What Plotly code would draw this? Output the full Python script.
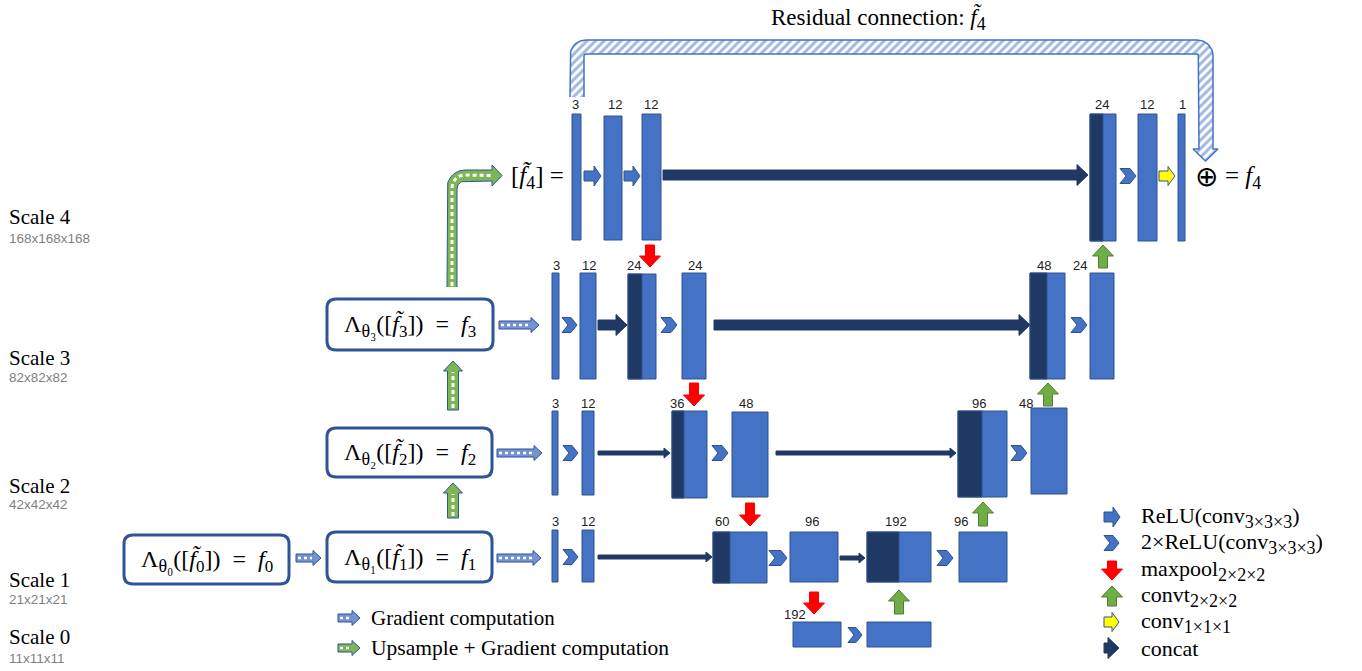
import numpy as np
import plotly.graph_objects as go

# ---------------- data (text content) ----------------
scale_names = ["Scale 4", "Scale 3", "Scale 2", "Scale 1", "Scale 0"]
scale_sizes = ["168x168x168", "82x82x82", "42x42x42", "21x21x21", "11x11x11"]
channels_s4 = ["3", "12", "12", "24", "12", "1"]
channels_s3 = ["3", "12", "24", "24", "48", "24"]
channels_s2 = ["3", "12", "36", "48", "96", "48"]
channels_s1 = ["3", "12", "60", "96", "192", "96"]
channels_s0 = ["192"]
SUB = '<sub><span style="font-size:{}px">{}</span></sub>'
solver_labels = [
    "Λ" + SUB.format(18, "θ₀") + "([<i>f̃</i>" + SUB.format(17, "0") + "])  =  <i>f</i>" + SUB.format(17, "0"),
    "Λ" + SUB.format(18, "θ₁") + "([<i>f̃</i>" + SUB.format(17, "1") + "])  =  <i>f</i>" + SUB.format(17, "1"),
    "Λ" + SUB.format(18, "θ₂") + "([<i>f̃</i>" + SUB.format(17, "2") + "])  =  <i>f</i>" + SUB.format(17, "2"),
    "Λ" + SUB.format(18, "θ₃") + "([<i>f̃</i>" + SUB.format(17, "3") + "])  =  <i>f</i>" + SUB.format(17, "3"),
]
legend_ops = [
    "ReLU(conv" + SUB.format(18, "3×3×3") + ")",
    "2×ReLU(conv" + SUB.format(18, "3×3×3") + ")",
    "maxpool" + SUB.format(18, "2×2×2"),
    "convt" + SUB.format(18, "2×2×2"),
    "conv" + SUB.format(18, "1×1×1"),
    "concat",
]
legend_grad = ["Gradient computation", "Upsample + Gradient computation"]
title_text = "Residual connection: <i>f̃</i>" + SUB.format(18, "4")

# ---------------- layout geometry (pixels) ----------------
W, H = 1362, 671
BLUE = "#4472C4"
BLUE_EDGE = "#2F528F"
DARK = "#203864"
BOX_EDGE = "#2F5597"
RED = "#FF0000"
GREEN = "#70AD47"
GREEN_EDGE = "#507E32"
YELLOW = "#FFFF00"
SERIF = "Liberation Serif"
SANS = "Liberation Sans"

shapes = []
annotations = []
traces = []


def path_of(pts, close=True):
    s = "M " + " L ".join(f"{x:.2f},{y:.2f}" for x, y in pts)
    return s + (" Z" if close else "")


def add_poly(pts, fill, edge, lw=1):
    shapes.append(dict(type="path", path=path_of(pts), fillcolor=fill,
                       line=dict(color=edge, width=lw), xref="x", yref="y"))


def add_rect(x0, y0, x1, y1, fill=BLUE, edge=BLUE_EDGE, lw=1):
    shapes.append(dict(type="rect", x0=x0, y0=y0, x1=x1, y1=y1, fillcolor=fill,
                       line=dict(color=edge, width=lw), xref="x", yref="y"))


def harrow_pts(x0, x1, yc, s, hh, hl):
    return [(x0, yc - s / 2), (x1 - hl, yc - s / 2), (x1 - hl, yc - hh / 2), (x1, yc),
            (x1 - hl, yc + hh / 2), (x1 - hl, yc + s / 2), (x0, yc + s / 2)]


def varrow_pts(xc, ytail, ytip, s, hw, hl):
    d = 1 if ytip > ytail else -1
    yb = ytip - d * hl
    return [(xc - s / 2, ytail), (xc - s / 2, yb), (xc - hw / 2, yb), (xc, ytip),
            (xc + hw / 2, yb), (xc + s / 2, yb), (xc + s / 2, ytail)]


def chevron_pts(x0, x1, yc, h, notch):
    return [(x0, yc - h / 2), (x1 - notch, yc - h / 2), (x1, yc), (x1 - notch, yc + h / 2),
            (x0, yc + h / 2), (x0 + notch, yc)]


def add_block(x0, y0, x1, y1, xdark=None):
    add_rect(x0, y0, x1, y1)
    if xdark is not None:
        add_rect(x0, y0, xdark, y1, fill=DARK)


def add_relu(x0, x1, yc):
    add_poly(harrow_pts(x0, x1, yc, 10, 20, 7), BLUE, BLUE_EDGE)


def add_chev(x0, x1, yc):
    add_poly(chevron_pts(x0, x1, yc, 15, 6), BLUE, BLUE_EDGE)


def add_concat(x0, x1, yc, thick=True):
    if thick:
        add_poly(harrow_pts(x0, x1, yc, 10, 21, 11), DARK, DARK)
    else:
        add_poly(harrow_pts(x0, x1, yc, 4, 10, 6), DARK, DARK)


def add_down(xc, y0, y1):
    add_poly(varrow_pts(xc, y0, y1, 9, 21, 11), RED, RED)


def add_up(xc, y0, y1):
    add_poly(varrow_pts(xc, y0, y1, 9, 21, 11), GREEN, GREEN_EDGE)


def add_label(x, y, txt, size=13):
    annotations.append(dict(x=x, y=y, text=txt, showarrow=False, xref="x", yref="y",
                            xanchor="center", yanchor="middle",
                            font=dict(family=SANS, size=size, color="#222222")))


def add_text(x, y, txt, size=21, anchor="center", family=SERIF, color="black"):
    annotations.append(dict(x=x, y=y, text=txt, showarrow=False, xref="x", yref="y",
                            xanchor=anchor, yanchor="middle",
                            font=dict(family=family, size=size, color=color)))


def add_grad_h(x0, x1, yc, green=False):
    fill = "#7DB655" if green else "#7393D3"
    add_poly(harrow_pts(x0, x1, yc, 8, 15, 8), fill, BOX_EDGE)
    shapes.append(dict(type="line", x0=x0 + 2, x1=x1 - 9, y0=yc, y1=yc, xref="x", yref="y",
                       line=dict(color="white", width=2.5, dash="3px,3px")))


def add_grad_v(xc, ytail, ytip):
    add_poly(varrow_pts(xc, ytail, ytip, 11, 19, 10), "#7DB655", BOX_EDGE)
    shapes.append(dict(type="line", x0=xc, x1=xc, y0=ytail - 2, y1=ytip + 11, xref="x", yref="y",
                       line=dict(color="white", width=3, dash="4px,3px")))


def round_box(x0, y0, x1, y1, r=9):
    p = (f"M {x0 + r},{y0} L {x1 - r},{y0} Q {x1},{y0} {x1},{y0 + r} L {x1},{y1 - r} "
         f"Q {x1},{y1} {x1 - r},{y1} L {x0 + r},{y1} Q {x0},{y1} {x0},{y1 - r} "
         f"L {x0},{y0 + r} Q {x0},{y0} {x0 + r},{y0} Z")
    shapes.append(dict(type="path", path=p, fillcolor="white",
                       line=dict(color=BOX_EDGE, width=3), xref="x", yref="y"))


def arc(cx, cy, r, a0, a1, n=12):
    a = np.linspace(np.radians(a0), np.radians(a1), n)
    return list(zip(cx + r * np.cos(a), cy + r * np.sin(a)))


# ---------- scale text on the left ----------
scale_y = [217, 358, 486, 580, 637]
size_y = [238, 377, 504, 599, 658]
for nm, sz, y1, y2 in zip(scale_names, scale_sizes, scale_y, size_y):
    add_text(7, y1, nm, size=21, anchor="left")
    add_text(7, y2, sz, size=13.5, anchor="left", family=SANS, color="#7F7F7F")

# ---------- solver boxes ----------
box_geom = [(124, 535, 289, 584), (327, 532, 492, 582), (327, 428, 492, 477), (327, 299, 493, 350)]
for (x0, y0, x1, y1), lab in zip(box_geom, solver_labels):
    round_box(x0, y0, x1, y1)
    add_text((x0 + x1) / 2, (y0 + y1) / 2 + 1, lab, size=24)

# gradient arrows
add_grad_h(296, 321, 558)
add_grad_h(497, 541, 558)
add_grad_h(497, 542, 453)
add_grad_h(499, 539, 325)
add_grad_v(453, 518, 483)
add_grad_v(453, 410, 361)

# upsample L-tube (green)
tube = []
tube += [(447, 287), (447, 188)]
tube += arc(465, 188, 18, 180, 270)
tube += [(492, 170), (492, 165), (502, 175.5), (492, 186), (492, 181)]
tube += arc(465, 189, 8, 270, 180)
tube += [(457, 189), (457, 287)]
traces.append(go.Scatter(x=[p[0] for p in tube], y=[p[1] for p in tube], mode="lines",
                         fill="toself", fillcolor="#7DB655",
                         line=dict(color=BOX_EDGE, width=1), hoverinfo="skip", showlegend=False))
centre = [(452, 286), (452, 188)] + arc(465, 188, 13, 180, 270) + [(491, 175.5)]
shapes.append(dict(type="path", path=path_of(centre, close=False), xref="x", yref="y",
                   line=dict(color="white", width=3, dash="4px,3px")))

# legend for gradient arrows
add_grad_h(338, 360, 618)
add_grad_h(338, 360, 648, green=True)
add_text(369, 618, legend_grad[0], size=21, anchor="left")
add_text(369, 648, legend_grad[1], size=21.5, anchor="left")

# ---------- Scale 4 row ----------
add_text(537, 177, "[<i>f̃</i>" + SUB.format(18, "4") + "] =", size=25)
add_block(572, 114, 581, 240)
add_relu(584, 601, 176)
add_block(604, 116, 622, 240)
add_relu(624, 640, 176)
add_block(642, 114, 661, 240)
add_concat(663, 1088, 175)
add_block(1090, 114, 1116, 241, xdark=1103)
add_chev(1120, 1136, 176)
add_block(1138, 114, 1157, 241)
add_poly(harrow_pts(1159, 1175, 176, 10, 19, 7), YELLOW, BLUE_EDGE)
add_block(1178, 114, 1185, 241)
add_text(1206, 176, "⊕", size=28)
add_text(1243, 177, "= <i>f</i>" + SUB.format(18, "4"), size=25)
s4_x = [575, 615, 651, 1102, 1147, 1182]
for x, t in zip(s4_x, channels_s4):
    add_label(x, 104, t)

# residual tube
res = []
res += [(570, 97), (570, 56)]
res += arc(586, 56, 16, 180, 270)
res += arc(1197, 56, 16, 270, 360)
res += [(1213, 149), (1218, 149), (1205.5, 161), (1193, 149), (1199, 149)]
res += arc(1197, 56, 2, 0, -90)
res += arc(586, 56, 2, 270, 180)
res += [(584, 97)]
traces.append(go.Scatter(x=[p[0] for p in res], y=[p[1] for p in res], mode="lines",
                         fill="toself", fillcolor="white",
                         fillpattern=dict(shape="/", fgcolor=BLUE, bgcolor="white",
                                          size=6, solidity=0.5),
                         line=dict(color=BLUE, width=1.5), hoverinfo="skip", showlegend=False))
add_text(878, 18, title_text, size=23)

# ---------- Scale 3 row ----------
add_block(552, 273, 559, 379)
add_chev(562, 577, 325)
add_block(580, 273, 596, 379)
add_concat(598, 627, 325)
add_block(628, 274, 656, 379, xdark=642)
add_chev(661, 677, 325)
add_block(682, 273, 706, 379)
add_concat(714, 1030, 325)
add_block(1030, 273, 1065, 379, xdark=1047)
add_chev(1071, 1087, 325)
add_block(1090, 273, 1114, 379)
add_down(650, 245, 267)
add_up(1103, 268, 245)
s3_x = [556, 589, 634, 695, 1044, 1080]
for x, t in zip(s3_x, channels_s3):
    add_label(x, 265, t)

# ---------- Scale 2 row ----------
add_block(552, 411, 558, 495)
add_chev(563, 578, 453)
add_block(582, 411, 594, 495)
add_concat(598, 670, 453, thick=False)
add_block(672, 411, 707, 498, xdark=684)
add_chev(712, 728, 453)
add_block(732, 412, 768, 497)
add_concat(776, 956, 453, thick=False)
add_block(958, 411, 1007, 497, xdark=982)
add_chev(1011, 1027, 453)
add_block(1031, 408, 1067, 494)
add_down(694, 383, 406)
add_up(1048, 406, 383)
s2_x = [555, 588, 677, 746, 979, 1026]
for x, t in zip(s2_x, channels_s2):
    add_label(x, 403, t)

# ---------- Scale 1 row ----------
add_block(552, 530, 558, 582)
add_chev(563, 578, 557)
add_block(582, 530, 594, 582)
add_concat(598, 712, 557, thick=False)
add_block(713, 532, 767, 583, xdark=730)
add_chev(769, 787, 558)
add_block(790, 532, 838, 582)
add_concat(840, 865, 558, thick=False)
add_block(867, 532, 931, 582, xdark=899)
add_chev(937, 953, 558)
add_block(959, 532, 1007, 582)
add_down(750, 503, 526)
add_up(983, 526, 502)
s1_x = [555, 588, 722, 812, 896, 961]
for x, t in zip(s1_x, channels_s1):
    add_label(x, 521, t)

# ---------- Scale 0 row ----------
add_block(793, 622, 841, 647)
add_chev(848, 862, 635)
add_block(867, 622, 931, 647)
add_down(814, 592, 614)
add_up(899, 614, 590)
add_label(795, 614, channels_s0[0])

# ---------- operation legend ----------
leg_y = [517, 543, 570, 596, 622, 648]
add_relu(1104, 1120, leg_y[0])
add_chev(1104, 1119, leg_y[1])
add_down(1112, 561, 580)
add_up(1112, 606, 586)
add_poly(harrow_pts(1104, 1119, leg_y[4], 10, 19, 7), YELLOW, BLUE_EDGE)
add_concat(1104, 1119, leg_y[5])
for y, t in zip(leg_y, legend_ops):
    add_text(1139, y, t, size=22, anchor="left")

fig = go.Figure(data=traces)
fig.update_layout(
    width=W, height=H, margin=dict(l=0, r=0, t=0, b=0),
    paper_bgcolor="white", plot_bgcolor="white",
    xaxis=dict(range=[0, W], visible=False, fixedrange=True),
    yaxis=dict(range=[H, 0], visible=False, fixedrange=True),
    shapes=shapes, annotations=annotations, showlegend=False,
)
fig.write_html("out.html", config={"displayModeBar": False},
               post_script="document.body.style.margin='0';document.body.style.overflow='hidden';")
